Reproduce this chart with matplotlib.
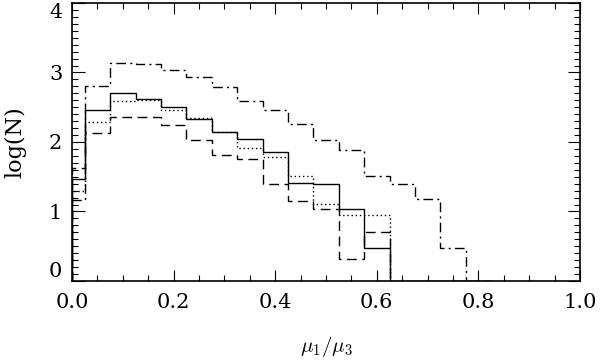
import matplotlib
matplotlib.use("Agg")
import matplotlib.pyplot as plt

# bin edges in mu1/mu3 (first bin is half width, clipped at 0)
bin_edges = [0.0, 0.025, 0.075, 0.125, 0.175, 0.225, 0.275, 0.325, 0.375,
             0.425, 0.475, 0.525, 0.575, 0.625, 0.675, 0.725, 0.775, 0.825]

# log(N) per bin
solid = [1.47, 2.46, 2.71, 2.62, 2.50, 2.33, 2.14, 2.04, 1.86,
         1.41, 1.40, 1.04, 0.47, 0.0, 0.0, 0.0, 0.0]
dotted = [1.30, 2.29, 2.59, 2.61, 2.46, 2.35, 2.14, 1.91, 1.79,
          1.51, 1.11, 0.95, 0.95, 0.0, 0.0, 0.0, 0.0]
dashed = [1.62, 2.13, 2.36, 2.36, 2.25, 2.03, 1.82, 1.76, 1.39,
          1.15, 1.04, 0.31, 0.70, 0.0, 0.0, 0.0, 0.0]
dashdot = [1.16, 2.80, 3.13, 3.12, 3.04, 2.93, 2.79, 2.59, 2.46,
           2.26, 2.03, 1.88, 1.51, 1.39, 1.18, 0.47, 0.0]

x_ticks = [0.0, 0.2, 0.4, 0.6, 0.8, 1.0]
y_ticks = [0, 1, 2, 3, 4]

plt.rcParams['font.family'] = ['DejaVu Serif']
plt.rcParams['mathtext.fontset'] = 'cm'

fig = plt.figure(figsize=(6.0, 3.62), dpi=100)
ax = fig.add_axes([0.12, 0.2238, 0.8467, 0.7679])

lw = 1.0
ax.stairs(solid, bin_edges, color='black', lw=lw, linestyle='-')
ax.stairs(dotted, bin_edges, color='black', lw=lw, linestyle=(0, (1, 2)))
ax.stairs(dashed, bin_edges, color='black', lw=lw, linestyle=(0, (7, 4)))
ax.stairs(dashdot, bin_edges, color='black', lw=lw, linestyle=(0, (7, 3, 1.5, 3)))

ax.set_xlim(0, 1.0)
ax.set_ylim(0, 4)
ax.set_xticks(x_ticks)
ax.set_xticklabels([f"{v:.1f}" for v in x_ticks])
ax.set_xticks([i * 0.05 for i in range(21)], minor=True)
ax.set_yticks(y_ticks)
ax.set_yticklabels([str(v) for v in y_ticks])
ax.set_yticks([i * 0.1 for i in range(41)], minor=True)

ax.tick_params(which='both', direction='in', top=True, right=True,
               width=0.8, labelsize=15)
ax.tick_params(axis='x', which='major', length=8, pad=9)
ax.tick_params(axis='x', which='minor', length=4)
ax.tick_params(axis='y', which='major', length=9, pad=7)
ax.tick_params(axis='y', which='minor', length=4.5)

labels = ax.get_yticklabels()
labels[0].set_va('bottom')
labels[-1].set_va('top')

for s in ax.spines.values():
    s.set_linewidth(1.2)

ax.set_xlabel(r'$\mu_1/\mu_3$', fontsize=15, va='center')
ax.xaxis.set_label_coords(0.5, -0.235)
ax.set_ylabel('log(N)', fontsize=16)
ax.yaxis.set_label_coords(-0.09, 0.5)

fig.savefig('out.png', dpi=100)
